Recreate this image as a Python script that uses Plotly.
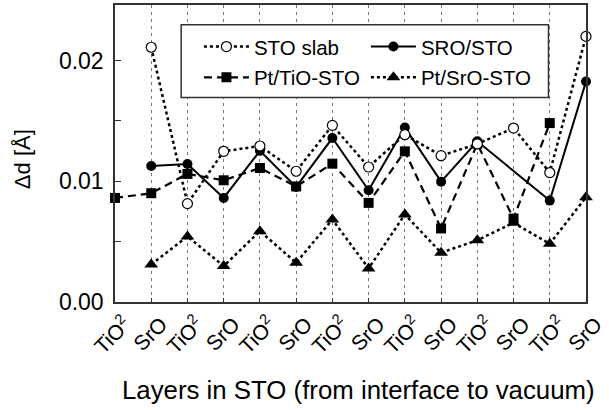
import plotly.graph_objects as go

# ---- data ----
layer_labels = ["TiO<sup>2</sup>", "SrO"] * 7
layer_pos = list(range(14))

sto_slab = [None, 0.0211, 0.00815, 0.01248, 0.01292, 0.01083, 0.01463, 0.01118,
            0.01386, 0.01212, 0.01309, 0.01441, 0.01072, 0.0220]
sro_sto = [None, 0.01127, 0.01143, 0.00862, 0.01252, 0.00953, 0.01358, 0.00926,
           0.01446, 0.00997, 0.01331, None, 0.00840, 0.01826]
pt_tio_sto = [0.00862, 0.00901, 0.01061, 0.01008, 0.01110, 0.00957, 0.01146, 0.00821,
              0.01248, 0.00609, 0.01310, 0.00691, 0.01482, None]
pt_sro_sto = [None, 0.00311, 0.00543, 0.00298, 0.00587, 0.00325, 0.00683, 0.00278,
              0.00725, 0.00408, 0.00512, 0.00656, 0.00482, 0.00868]

y_tickvals = [0.0, 0.005, 0.01, 0.015, 0.02]
y_ticktext = ["0.00", "", "0.01", "", "0.02"]

x_title = "Layers in STO (from interface to vacuum)"
y_title = "Δd [Å]"

FONT = "Liberation Sans, Arial, sans-serif"

fig = go.Figure()

fig.add_trace(go.Scatter(
    x=layer_pos, y=pt_sro_sto, name="Pt/SrO-STO", mode="lines+markers",
    line=dict(color="black", width=2.5, dash="dot"),
    marker=dict(symbol="triangle-up", size=12, color="black"),
    legend="legend2", legendrank=2, cliponaxis=False))
fig.add_trace(go.Scatter(
    x=layer_pos, y=pt_tio_sto, name="Pt/TiO-STO", mode="lines+markers",
    line=dict(color="black", width=2.2, dash="8px,5px"),
    marker=dict(symbol="square", size=10, color="black"),
    legend="legend2", legendrank=1, cliponaxis=False))
fig.add_trace(go.Scatter(
    x=layer_pos, y=sro_sto, name="SRO/STO", mode="lines+markers", connectgaps=True,
    line=dict(color="black", width=2),
    marker=dict(symbol="circle", size=10, color="black"),
    legend="legend", legendrank=2, cliponaxis=False))
fig.add_trace(go.Scatter(
    x=layer_pos, y=sto_slab, name="STO slab", mode="lines+markers",
    line=dict(color="black", width=2.5, dash="dot"),
    marker=dict(symbol="circle", size=10, color="white", line=dict(color="black", width=1.2)),
    legend="legend", legendrank=1, cliponaxis=False))

L, R, T, B = 115, 17, 3, 108
W, H = 609, 410
pw, ph = W - L - R, H - T - B

def px_x(p):
    return (p - L) / pw

def px_y(p):
    return (H - B - p) / ph

fig.add_shape(type="rect", xref="paper", yref="paper",
              x0=px_x(182), x1=px_x(554), y0=px_y(96), y1=px_y(23),
              line=dict(color="#333", width=1.5), fillcolor="white", layer="above")

leg_common = dict(orientation="h", xanchor="left", yanchor="middle",
                  bgcolor="rgba(0,0,0,0)", borderwidth=0,
                  font=dict(family=FONT, size=20.5, color="black"),
                  entrywidth=107, entrywidthmode="pixels", itemwidth=45,
                  traceorder="normal")

fig.add_annotation(text=x_title, xref="paper", yref="paper",
                   x=px_x(362), y=px_y(391), xanchor="center", yanchor="middle",
                   showarrow=False, font=dict(size=25.8, family=FONT, color="black"))
fig.add_annotation(text=y_title, xref="paper", yref="paper", textangle=-90,
                   x=px_x(22), y=px_y(158), xanchor="center", yanchor="middle",
                   showarrow=False, font=dict(size=22, family=FONT, color="black"))

fig.update_layout(
    width=W, height=H,
    margin=dict(l=L, r=R, t=T, b=B),
    paper_bgcolor="white", plot_bgcolor="white",
    font=dict(family=FONT, color="black"),
    legend=dict(x=px_x(200), y=px_y(45), **leg_common),
    legend2=dict(x=px_x(200), y=px_y(76), **leg_common),
    xaxis=dict(range=[0, 13], tickvals=layer_pos, ticktext=layer_labels,
               tickangle=-45, tickfont=dict(size=21, family=FONT),
               ticklabelshift=10, ticklabeloverflow="allow",
               ticks="inside", ticklen=4, tickcolor="#333",
               showline=True, linecolor="#333", linewidth=1.5, mirror=True,
               showgrid=True, gridcolor="#777", gridwidth=1, griddash="3px,4px",
               zeroline=False),
    yaxis=dict(range=[0, 0.0246], tickvals=y_tickvals, ticktext=y_ticktext,
               tickfont=dict(size=23, family=FONT), ticklabelstandoff=5,
               ticks="inside", ticklen=6, tickcolor="#333",
               showline=True, linecolor="#333", linewidth=1.5, mirror=True,
               showgrid=False, zeroline=False),
)

fig.write_html("out.html")
